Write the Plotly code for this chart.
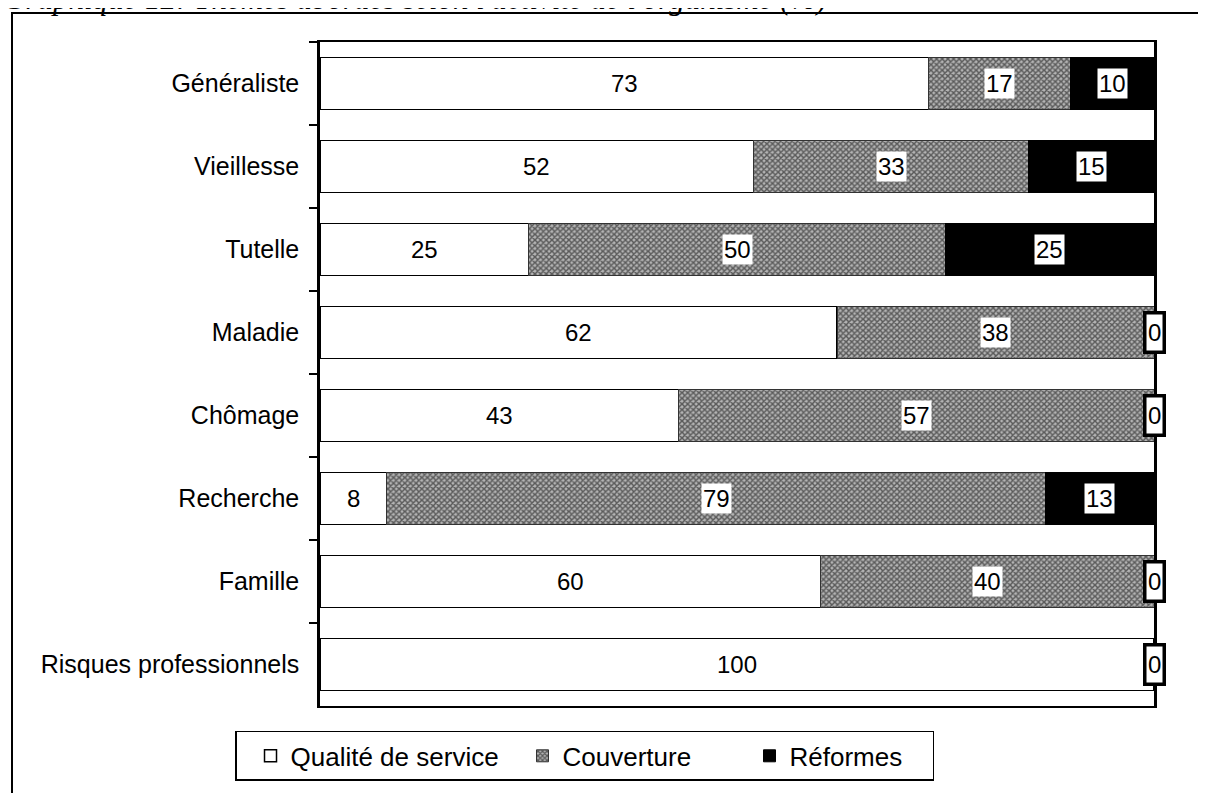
import plotly.graph_objects as go

categories = ["Généraliste", "Vieillesse", "Tutelle", "Maladie", "Chômage",
              "Recherche", "Famille", "Risques professionnels"]
qualite = [73, 52, 25, 62, 43, 8, 60, 100]
couverture = [17, 33, 50, 38, 57, 79, 40, 0]
reformes = [10, 15, 25, 0, 0, 13, 0, 0]
series_names = ["Qualité de service", "Couverture", "Réformes"]
title_text = "Graphique 12: Thèmes abordés selon l'activité de l'organisme (%)"

FONT = "Liberation Sans, Arial, sans-serif"
FS = 24

fig = go.Figure()
fig.add_trace(go.Bar(
    y=categories, x=qualite, orientation="h", name=series_names[0], legendwidth=213,
    marker=dict(color="white", line=dict(color="black", width=1.5)),
))
fig.add_trace(go.Bar(
    y=categories, x=couverture, orientation="h", name=series_names[1], legendwidth=168,
    marker=dict(color="#777777",
                pattern=dict(shape="x", size=4, solidity=0.6, fgcolor="#000000", bgcolor="#b4b4b4"),
                line=dict(color="#333333", width=1)),
))
fig.add_trace(go.Bar(
    y=categories, x=reformes, orientation="h", name=series_names[2], legendwidth=138,
    marker=dict(color="black", line=dict(color="black", width=1)),
))

annotations = []
for i, cat in enumerate(categories):
    q, c, r = qualite[i], couverture[i], reformes[i]
    annotations.append(dict(x=q / 2, y=cat, xref="x", yref="y", text=str(q), showarrow=False,
                            font=dict(family=FONT, size=FS, color="black")))
    for start, val in ((q, c), (q + c, r)):
        if val > 0:
            annotations.append(dict(x=start + val / 2, y=cat, xref="x", yref="y", text=str(val),
                                    showarrow=False, bgcolor="white", borderpad=1,
                                    font=dict(family=FONT, size=FS, color="black")))
        else:
            annotations.append(dict(x=start, y=cat, xref="x", yref="y", text=str(val),
                                    showarrow=False, bgcolor="white", bordercolor="black",
                                    borderwidth=3.5, borderpad=1.5, height=33,
                                    font=dict(family=FONT, size=FS, color="black")))

annotations.append(dict(x=-0.3825, y=1.036, xref="paper", yref="paper", xanchor="left", yanchor="bottom",
                        text="<i>" + title_text + "</i>", showarrow=False,
                        font=dict(family="Liberation Serif, Times New Roman, serif", size=31, color="black")))

fig.update_layout(
    width=1198, height=785,
    margin=dict(l=312, r=52, t=34, b=85),
    barmode="stack", bargap=0.374,
    plot_bgcolor="white", paper_bgcolor="white",
    font=dict(family=FONT, size=FS, color="black"),
    showlegend=True,
    legend=dict(orientation="h", x=-0.1019, y=-0.0375, xanchor="left", yanchor="top",
                bordercolor="black", borderwidth=1.5, font=dict(family=FONT, size=26),
                traceorder="normal", indentation=14),
    xaxis=dict(range=[0, 100], showticklabels=False, ticks="", showgrid=False, zeroline=False,
               showline=True, linecolor="black", linewidth=2, mirror=True, fixedrange=True),
    yaxis=dict(autorange="reversed", type="category", showgrid=False, zeroline=False,
               showline=True, linecolor="black", linewidth=2.5, mirror=True,
               ticks="outside", ticklen=8, tickwidth=2, tickcolor="black", tickson="boundaries",
               ticklabelstandoff=13, tickfont=dict(family=FONT, size=25)),
    annotations=annotations,
    shapes=[dict(type="rect", xref="paper", yref="paper", x0=-0.3693, x1=1.1, y0=-0.2, y1=1.0435,
                 line=dict(color="black", width=2), fillcolor="rgba(0,0,0,0)", layer="below")],
)

fig.write_html("out.html")
